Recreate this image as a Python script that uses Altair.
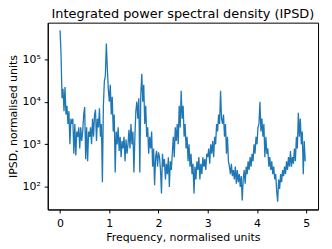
import altair as alt
import numpy as np
import pandas as pd

# IPSD values, one list per unit of frequency (step 0.02)
ipsd_0 = [4.7e5, 1.3e5, 1.2e4, 2.0e4, 6.0e3, 2.2e4, 5.0e3, 8.0e3, 3.0e3, 6.0e3,
          1.0e3, 4.0e3, 3.0e3, 4.0e3, 6.0e2, 3.0e3, 5.5e2, 2.0e3, 1.5e3, 2.5e3,
          8.0e2, 2.5e3, 1.2e3, 2.0e3, 5.0e3, 7.5e3, 4.5e2, 2.5e3, 4.0e2, 2.0e3,
          1.5e3, 2.5e3, 1.0e3, 4.0e3, 1.5e3, 5.0e3, 6.5e3, 1.2e3, 4.0e3, 2.5e3,
          7.0e3, 1.5e3, 3.0e3, 1.3e2, 8.0e3, 3.0e4, 4.0e4, 2.3e5, 6.0e4, 2.0e4]
ipsd_1 = [1.0e4, 2.5e4, 5.0e3, 1.3e4, 2.0e3, 5.0e3, 2.2e2, 2.0e3, 1.0e3, 2.5e3,
          7.0e2, 1.5e3, 5.0e2, 1.2e3, 8.0e2, 1.5e3, 4.0e2, 1.3e3, 6.0e2, 1.0e3,
          2.2e3, 8.0e2, 3.0e3, 1.0e3, 2.0e3, 2.2e2, 1.5e3, 6.0e3, 1.0e4, 4.0e3,
          1.2e4, 2.2e2, 1.5e4, 4.5e4, 1.0e4, 2.5e4, 3.0e3, 8.0e3, 1.5e3, 2.5e3,
          6.0e2, 1.5e3, 8.0e2, 2.0e3, 3.0e2, 8.0e2, 1.1e2, 5.0e2, 7.0e2, 3.0e2]
ipsd_2 = [6.5e2, 5.0e2, 2.5e2, 7.0e1, 6.0e2, 3.0e2, 4.5e2, 1.5e2, 3.5e2, 2.0e2,
          5.0e2, 1.0e2, 4.0e2, 2.5e2, 6.0e2, 1.5e3, 5.0e2, 2.5e3, 1.2e3, 3.0e3,
          1.0e3, 8.0e3, 2.5e3, 1.8e4, 4.0e3, 8.0e3, 1.5e3, 3.0e3, 8.0e2, 1.5e3,
          4.0e2, 1.0e3, 3.0e2, 6.0e2, 2.0e2, 3.5e2, 7.0e1, 3.0e2, 1.5e2, 4.0e2,
          2.5e2, 5.0e2, 1.5e2, 3.5e2, 2.0e2, 5.0e2, 3.0e2, 4.5e2, 2.5e2, 6.0e2]
ipsd_3 = [5.0e2, 8.0e2, 3.5e2, 1.0e3, 6.0e2, 1.2e3, 5.0e2, 1.5e3, 1.0e3, 3.0e3,
          2.0e3, 5.0e3, 3.0e3, 1.8e4, 4.0e3, 3.0e3, 5.0e3, 1.5e3, 3.0e3, 6.0e2,
          1.5e3, 4.0e2, 3.0e2, 2.0e2, 3.5e2, 1.8e2, 2.5e2, 1.5e2, 3.0e2, 1.2e2,
          2.5e2, 1.3e2, 2.0e2, 1.0e2, 1.8e2, 4.8e1, 1.5e2, 2.5e2, 1.2e2, 3.0e2,
          2.0e2, 4.0e2, 2.5e2, 5.0e2, 3.0e2, 6.0e2, 4.0e2, 1.0e3, 6.0e2, 1.5e3]
ipsd_4 = [1.0e3, 2.5e3, 3.0e3, 1.0e4, 2.0e3, 4.0e3, 1.5e3, 3.0e3, 5.0e2, 1.5e3,
          6.0e2, 8.0e2, 3.0e2, 5.0e2, 2.5e2, 4.0e2, 2.0e2, 3.0e2, 1.5e2, 2.0e2,
          8.0e1, 4.5e1, 1.5e2, 9.0e1, 2.0e2, 1.3e2, 2.5e2, 1.8e2, 3.0e2, 2.0e2,
          4.0e2, 2.5e2, 5.0e2, 3.0e2, 7.0e2, 3.0e2, 5.0e2, 3.5e2, 8.0e2, 4.0e2,
          1.5e3, 8.0e2, 5.5e3, 1.5e3, 4.0e3, 1.0e3, 2.0e3, 2.0e2, 1.2e3, 4.0e2]

values = ipsd_0 + ipsd_1 + ipsd_2 + ipsd_3 + ipsd_4
freq = np.round(np.arange(len(values)) * 0.02, 2)

x_ticks = [0, 1, 2, 3, 4, 5]
y_ticks = [100, 1000, 10000, 100000]

df = pd.DataFrame({"freq": freq, "ipsd": values})

FONT = "DejaVu Sans"

chart = alt.Chart(df).mark_line(color="#1f77b4", strokeWidth=1.3, clip=True).encode(
    x=alt.X("freq:Q",
            scale=alt.Scale(domain=[-0.25, 5.24], nice=False, zero=False),
            axis=alt.Axis(values=x_ticks, format="d", title="Frequency, normalised units",
                          titlePadding=3, labelPadding=5)),
    y=alt.Y("ipsd:Q",
            scale=alt.Scale(type="log", domain=[29.7, 713000], nice=False),
            axis=alt.Axis(values=y_ticks,
                          labelExpr="datum.value == 100 ? '10²' : datum.value == 1000 ? '10³' : datum.value == 10000 ? '10⁴' : '10⁵'",
                          title="IPSD, normalised units", titlePadding=4)),
).properties(
    width=272,
    height=188,
    autosize=alt.AutoSizeParams(type="none"),
    padding={"left": 40, "top": 14, "right": 6, "bottom": 33},
    title=alt.TitleParams("Integrated power spectral density (IPSD)", font=FONT,
                          fontSize=13, fontWeight="normal", color="black",
                          anchor="middle", baseline="bottom", offset=3, dy=14),
).configure_axis(
    grid=False,
    domainColor="black",
    tickColor="black",
    tickSize=3.5,
    labelPadding=4,
    labelFont=FONT,
    labelFontSize=11,
    labelColor="black",
    titleFont=FONT,
    titleFontSize=11,
    titleFontWeight="normal",
    titleColor="black",
).configure_view(
    stroke="black",
    strokeWidth=1,
)

chart.save("out.html", embed_options={"renderer": "svg", "actions": False})
